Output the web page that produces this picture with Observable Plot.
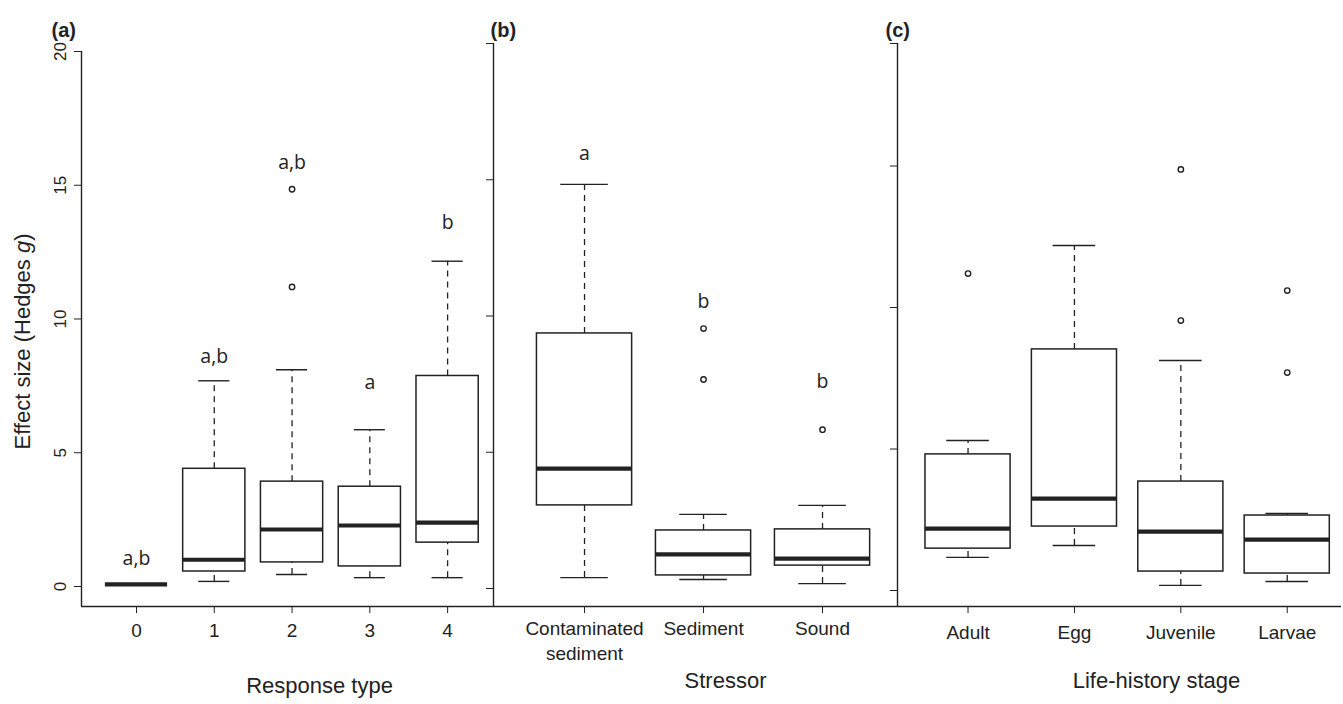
<!DOCTYPE html>
<html>
<head>
<meta charset="utf-8">
<script src="https://cdn.jsdelivr.net/npm/d3@7"></script>
<script src="https://cdn.jsdelivr.net/npm/@observablehq/plot@0.6"></script>
<style>
  html, body { margin: 0; padding: 0; background: white; }
  #wrap { position: relative; width: 1343px; height: 704px; overflow: hidden; }
  #wrap svg { position: absolute; top: 0; }
</style>
</head>
<body>
<div id="wrap"></div>
<script>
// ---------- Panel (a): Response type ----------
const catsA   = ["0", "1", "2", "3", "4"];
const lowA    = [0.08, 0.19, 0.45, 0.33, 0.33];
const q1A     = [0.08, 0.56, 0.90, 0.75, 1.64];
const medA    = [0.08, 1.00, 2.13, 2.28, 2.39];
const q3A     = [0.08, 4.40, 3.92, 3.73, 7.87];
const highA   = [0.08, 7.69, 8.10, 5.86, 12.16];
const outA    = [[2, 11.2], [2, 14.85]];
const letA    = ["a,b", "a,b", "a,b", "a", "b"];
const letYA   = [1.05, 8.6, 15.85, 7.63, 13.6];
const yTicksA = [0, 5, 10, 15, 20];

// ---------- Panel (b): Stressor ----------
const catsB   = ["Contaminated\nsediment", "Sediment", "Sound"];
const lowB    = [0.40, 0.33, 0.18];
const q1B     = [3.05, 0.48, 0.84];
const medB    = [4.40, 1.25, 1.10];
const q3B     = [9.36, 2.13, 2.17];
const highB   = [14.83, 2.72, 3.05];
const outB    = [[1, 7.67], [1, 9.54], [2, 5.83]];
const letB    = ["a", "b", "b"];
const letYB   = [15.96, 10.53, 7.6];
const yTicksB = [0, 5, 10, 15, 20];

// ---------- Panel (c): Life-history stage ----------
const catsC   = ["Adult", "Egg", "Juvenile", "Larvae"];
const lowC    = [1.17, 1.59, 0.18, 0.32];
const q1C     = [1.48, 2.26, 0.67, 0.60];
const medC    = [2.19, 3.25, 2.08, 1.80];
const q3C     = [4.81, 8.52, 3.85, 2.65];
const highC   = [5.30, 12.19, 8.13, 2.72];
const outC    = [[0, 11.2], [2, 9.54], [2, 14.88], [3, 7.70], [3, 10.6]];
const letC    = [];
const letYC   = [];
const yTicksC = [0, 5, 10, 15];

const INK = "#222";
const FONT = "'Liberation Sans', Arial, Helvetica, sans-serif";

function panel(o) {
  const rows = o.cats.map((c, i) => ({
    i, c, low: o.low[i], q1: o.q1[i], med: o.med[i], q3: o.q3[i], high: o.high[i]
  }));
  const letters = o.letters.map((t, i) => ({i, t, y: o.letterY[i]}));
  const x0 = o.xDomain[0];
  const yBot = o.yDomain[0], yTop = o.yDomain[1];
  const marginTop = o.marginTop, marginBottom = 98, height = 704;
  const frameMidY = (marginTop + (height - marginBottom)) / 2;
  const frameBottom = height - marginBottom;
  const ticksY = o.topTick ? [...o.yTicks, yTop] : o.yTicks;

  const marks = [
    // axis lines
    Plot.ruleX([0], {x: () => x0, y1: () => yBot, y2: () => yTop, stroke: INK, strokeWidth: 1.4}),
    Plot.ruleY([0], {y: () => yBot, stroke: INK, strokeWidth: 1.4}),
    Plot.axisY({ticks: ticksY, tickSize: 7, tickFormat: () => "", label: null, stroke: INK}),
    Plot.axisX({ticks: rows.map(d => d.i), tickFormat: i => o.cats[i], tickSize: 7,
                tickPadding: o.tickPad, label: null, fontSize: 19, lineHeight: 1.28,
                fill: INK, stroke: INK}),
    // whiskers
    Plot.ruleX(rows, {x: "i", y1: "q3", y2: "high", stroke: INK, strokeWidth: 1.3, strokeDasharray: "6,5"}),
    Plot.ruleX(rows, {x: "i", y1: "low", y2: "q1", stroke: INK, strokeWidth: 1.3, strokeDasharray: "6,5"}),
    Plot.ruleY(rows, {y: "high", x1: d => d.i - 0.2, x2: d => d.i + 0.2, stroke: INK, strokeWidth: 1.4}),
    Plot.ruleY(rows, {y: "low", x1: d => d.i - 0.2, x2: d => d.i + 0.2, stroke: INK, strokeWidth: 1.4}),
    // boxes
    Plot.rect(rows, {x1: d => d.i - 0.4, x2: d => d.i + 0.4, y1: "q1", y2: "q3",
                     fill: "white", stroke: INK, strokeWidth: 1.5}),
    Plot.ruleY(rows, {y: "med", x1: d => d.i - 0.4, x2: d => d.i + 0.4, stroke: INK, strokeWidth: 4.2}),
    // outliers
    Plot.dot(o.out, {x: d => d[0], y: d => d[1], r: 2.7, stroke: INK, strokeWidth: 1.4, fill: "none"}),
    // significance letters
    Plot.text(letters, {x: "i", y: "y", text: "t", fontSize: 19.5, fill: INK,
                        fontFamily: "'Open Sans', sans-serif"}),
    // panel tag
    Plot.text([o.tag], {frameAnchor: "top-left", dx: o.tagDx, dy: 22 - marginTop, text: d => d,
                        textAnchor: "start", fontWeight: "bold", fontSize: 20, fill: INK}),
    // x title
    Plot.text([o.xTitle], {frameAnchor: "bottom", dx: o.xTitleDx, dy: o.xTitleY - frameBottom,
                           text: d => d, fontSize: 22, fill: INK})
  ];
  if (o.yLabels) {
    marks.push(Plot.text(o.yTicks, {x: () => x0, y: d => d, text: d => String(d), rotate: -90,
                                     dx: -21, fontSize: 17, fill: INK}));
    marks.push(Plot.text(["Effect size (Hedges g)"], {frameAnchor: "left", textAnchor: "middle",
                          dx: -58.5, dy: 341 - frameMidY, rotate: -90, text: d => d,
                          fontSize: 22, fill: INK}));
  }
  const svg = Plot.plot({
    width: o.width, height, marginLeft: o.marginLeft, marginRight: o.marginRight,
    marginTop, marginBottom,
    x: {domain: o.xDomain},
    y: {domain: o.yDomain},
    style: {background: "transparent", overflow: "visible", fontFamily: FONT, fontSize: "18px", color: INK},
    marks
  });
  svg.style.left = o.left + "px";
  return svg;
}

const wrap = document.getElementById("wrap");

wrap.appendChild(panel({
  cats: catsA, low: lowA, q1: q1A, med: medA, q3: q3A, high: highA, out: outA,
  letters: letA, letterY: letYA, yTicks: yTicksA, yLabels: true,
  xDomain: [-0.707, 4.59], yDomain: [-0.748, 20],
  left: 0, width: 493, marginLeft: 81, marginRight: 0, marginTop: 51,
  tag: "(a)", tagDx: -30, xTitle: "Response type", xTitleDx: 32, xTitleY: 692, tickPad: 6
}));

wrap.appendChild(panel({
  cats: catsB, low: lowB, q1: q1B, med: medB, q3: q3B, high: highB, out: outB,
  letters: letB, letterY: letYB, yTicks: yTicksB, yLabels: false,
  xDomain: [-0.765, 2.63], yDomain: [-0.66, 20],
  left: 473, width: 424, marginLeft: 20, marginRight: 0, marginTop: 43,
  tag: "(b)", tagDx: -3, xTitle: "Stressor", xTitleDx: 30, xTitleY: 687, tickPad: 4.5
}));

wrap.appendChild(panel({
  cats: catsC, low: lowC, q1: q1C, med: medC, q3: q3C, high: highC, out: outC,
  letters: letC, letterY: letYC, yTicks: yTicksC, yLabels: false, topTick: true,
  xDomain: [-0.663, 3.51], yDomain: [-0.565, 19.33],
  left: 877, width: 466, marginLeft: 20, marginRight: 2, marginTop: 43,
  tag: "(c)", tagDx: -12, xTitle: "Life-history stage", xTitleDx: 37, xTitleY: 687, tickPad: 8.5
}));

// italic "g" in the y title
wrap.querySelectorAll("text").forEach(t => {
  if (t.textContent === "Effect size (Hedges g)") {
    t.innerHTML = 'Effect size (Hedges <tspan font-style="italic">g</tspan>)';
  }
});
</script>
</body>
</html>
